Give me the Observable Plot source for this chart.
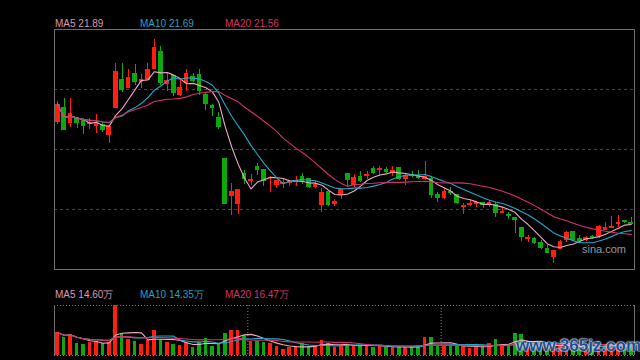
<!DOCTYPE html>
<html><head><meta charset="utf-8">
<script src="https://cdn.jsdelivr.net/npm/d3@7"></script>
<script src="https://cdn.jsdelivr.net/npm/@observablehq/plot@0.6"></script>
<style>
html,body{margin:0;padding:0;background:#000;}
#root{position:relative;width:640px;height:360px;background:#000;overflow:hidden;font-family:"Liberation Sans",Arial,sans-serif;}
#root svg{position:absolute;left:0;}
.lbl{position:absolute;font-size:10px;white-space:nowrap;line-height:10px;}
</style></head><body><div id="root"></div>
<script>
// ---- data (daily K-line, price in yuan, volume in 万手) ----
const opens = [24.86,25.29,24.82,24.99,24.91,24.80,24.74,24.78,24.47,25.27,
26.12,25.87,26.28,26.04,26.11,26.42,26.92,25.99,26.21,25.66,
26.02,26.20,26.24,25.65,25.34,24.99,23.78,22.67,22.43,23.32,
23.13,23.53,23.43,23.20,23.00,23.03,23.05,23.10,23.25,23.18,
22.95,22.40,22.78,22.43,22.70,23.33,23.01,23.25,23.26,23.46,
23.44,23.45,23.35,23.49,23.17,23.31,23.28,23.18,23.18,22.69,
22.62,22.79,22.69,22.36,22.41,22.44,22.47,22.44,22.42,22.18,
22.12,22.03,21.74,21.39,21.39,21.28,21.12,20.87,21.10,21.36,
21.60,21.39,21.38,21.47,21.49,21.68,21.74,21.84,21.94,21.88];
const closes = [25.38,24.62,25.11,24.82,24.74,24.83,24.79,24.62,24.73,26.33,
25.82,26.18,26.04,26.11,26.39,27.04,26.01,26.09,25.72,25.88,
26.27,26.07,25.77,25.39,25.27,24.73,22.43,22.80,22.86,23.17,
23.16,23.44,23.13,23.22,23.13,23.05,23.08,23.12,23.13,22.94,
23.00,22.77,22.40,22.49,22.86,23.14,23.22,23.13,23.31,23.35,
23.46,23.39,23.42,23.17,23.27,23.26,23.21,23.24,22.70,22.62,
22.78,22.76,22.46,22.38,22.44,22.46,22.40,22.48,22.18,22.21,
22.09,21.96,21.47,21.42,21.28,21.13,20.98,21.05,21.32,21.57,
21.36,21.35,21.44,21.44,21.77,21.73,21.77,21.89,21.91,21.85];
const highs = [25.47,25.55,25.56,24.99,24.96,24.96,25.09,24.86,24.73,26.58,
26.58,26.41,26.55,26.28,26.58,27.31,27.11,26.29,26.21,26.09,
26.41,26.31,26.41,25.75,25.39,25.14,23.79,23.04,22.88,23.43,
23.30,23.63,23.43,23.25,23.13,23.16,23.14,23.25,23.35,23.20,
23.11,22.91,22.78,22.56,22.86,23.33,23.30,23.39,23.39,23.56,
23.55,23.53,23.56,23.49,23.31,23.40,23.42,23.70,23.26,22.77,
22.94,22.92,22.69,22.45,22.54,22.51,22.47,22.54,22.47,22.33,
22.19,22.03,21.74,21.51,21.44,21.35,21.21,21.05,21.35,21.62,
21.60,21.51,21.49,21.52,21.80,21.88,22.07,22.10,21.94,22.03];
const lows = [24.79,24.62,24.71,24.68,24.50,24.63,24.51,24.54,24.24,25.27,
25.75,25.87,25.94,25.84,26.11,26.42,25.94,25.77,25.63,25.63,
25.77,26.04,25.64,25.20,25.02,24.65,22.43,22.11,22.12,23.00,
22.99,23.27,22.97,22.77,22.90,22.91,22.95,22.96,23.01,22.91,
22.90,22.19,22.37,22.36,22.56,22.94,22.94,23.08,23.16,23.30,
23.26,23.33,23.26,23.12,22.99,23.23,23.17,23.13,22.59,22.49,
22.56,22.68,22.42,22.12,22.37,22.32,22.31,22.33,22.03,22.18,
21.99,21.56,21.34,21.31,21.25,21.10,20.98,20.68,21.10,21.30,
21.32,21.32,21.34,21.39,21.42,21.68,21.72,21.75,21.86,21.82];
const volumes = [35.4,27.6,32.8,18.2,16.6,20.3,21.8,19.2,20.3,78,
34.3,25,21.8,17.2,23.9,39,25,20.3,17.2,15.6,
20.8,12,20.8,26,14,19.2,34.3,39,39,30.7,
21.8,21.8,19.8,19.2,14,8.8,12,14,18.2,14.6,
14.6,22.9,18.7,12.5,15.1,17.2,15.6,16.1,16.1,13,
15.1,12.5,12,13.5,13,13,15.1,27.6,27.6,14,
14,16.1,16.1,15.1,10.9,12.5,13.5,18.2,24.4,16.1,
15.1,33.8,32.2,13,15,16,14,18,16,14,
13,10,11,12,22,15,16,15,13,14];
const maPeriods = [5, 10, 20];
const priceMaLabels = ["MA5 21.89", "MA10 21.69", "MA20 21.56"];
const volMaLabels = ["MA5 14.60万", "MA10 14.35万", "MA20 16.47万"];
const monthStarts = [30, 60];   // candle index where a new month begins
const priceDomain = [20.5, 27.6];
const volDomain = [0, 78];

// ---- styles ----
const RED = "#ff1e10", GREEN = "#0ca80c";
const maColors = ["#eeaac4", "#1fa9cc", "#d6306a"];
const labelColors = ["#d89ab2", "#2a9fbf", "#d2336a"];
const labelX = [55, 140, 225];

const data = opens.map((o, i) => ({
  i, open: o, close: closes[i], high: highs[i], low: lows[i], vol: volumes[i],
  color: closes[i] >= o ? RED : GREEN
}));
const n = data.length;
const xDomain = [-0.5, n - 0.5];
const gridPrices = [1, 2, 3].map(k => priceDomain[0] + k * (priceDomain[1] - priceDomain[0]) / 4);

const root = document.getElementById("root");

const main = Plot.plot({
  width: 640, height: 270,
  marginLeft: 54, marginRight: 6, marginTop: 29, marginBottom: 1,
  style: {background: "transparent", overflow: "visible"},
  x: {type: "linear", domain: xDomain, axis: null},
  y: {domain: priceDomain, axis: null},
  color: {type: "identity"},
  marks: [
    Plot.ruleY(gridPrices, {stroke: "#474747", strokeDasharray: "3,3", strokeWidth: 1}),
    Plot.frame({stroke: "#6e6e6e"}),
    Plot.ruleX(data, {x: "i", y1: "low", y2: "high", stroke: "color", shapeRendering: "crispEdges"}),
    Plot.rect(data, {x1: d => d.i - 0.36, x2: d => d.i + 0.36, y1: "open", y2: "close", fill: "color",
      insetTop: -0.5, insetBottom: -0.5, shapeRendering: "crispEdges"}),
    ...maPeriods.map((k, j) => Plot.lineY(data, Plot.windowY({k, anchor: "end"},
      {x: "i", y: "close", stroke: maColors[j], strokeWidth: 1.1})))
  ]
});
main.style.top = "0px";
root.appendChild(main);

const vol = Plot.plot({
  width: 640, height: 60,
  marginLeft: 54, marginRight: 6, marginTop: 5, marginBottom: 5,
  style: {background: "transparent", overflow: "visible"},
  x: {type: "linear", domain: xDomain, axis: null},
  y: {domain: volDomain, axis: null},
  color: {type: "identity"},
  marks: [
    Plot.ruleY(volDomain, {stroke: "#808080", strokeDasharray: "1,2"}),
    Plot.ruleX(xDomain, {stroke: "#6e6e6e"}),
    Plot.ruleX(monthStarts.map(m => m - 0.5), {stroke: "#808080", strokeDasharray: "1,2"}),
    Plot.rect(data, {x1: d => d.i - 0.27, x2: d => d.i + 0.27, y1: 0, y2: "vol", fill: "color", shapeRendering: "crispEdges"}),
    ...maPeriods.map((k, j) => Plot.lineY(data, Plot.windowY({k, anchor: "end"},
      {x: "i", y: "vol", stroke: maColors[j], strokeWidth: 1.1})))
  ]
});
vol.style.top = "300px";
root.appendChild(vol);

function addLabel(text, x, y, color, extra) {
  const d = document.createElement("div");
  d.className = "lbl";
  d.textContent = text;
  d.style.left = x + "px";
  d.style.top = y + "px";
  d.style.color = color;
  if (extra) Object.assign(d.style, extra);
  root.appendChild(d);
}
priceMaLabels.forEach((t, j) => addLabel(t, labelX[j], 19, labelColors[j]));
volMaLabels.forEach((t, j) => addLabel(t, labelX[j], 290, labelColors[j]));
addLabel("sina.com", 582, 244, "#9a9a9a", {fontSize: "11px"});
addLabel("www.365jz.com", 516, 337, "#1d4d8e", {
  fontSize: "17px", lineHeight: "17px", fontWeight: "bold",
  textShadow: "0 0 2px #e8f0ff, 0 0 2px #e8f0ff, 0 0 1px #fff"
});
</script>
</body></html>
